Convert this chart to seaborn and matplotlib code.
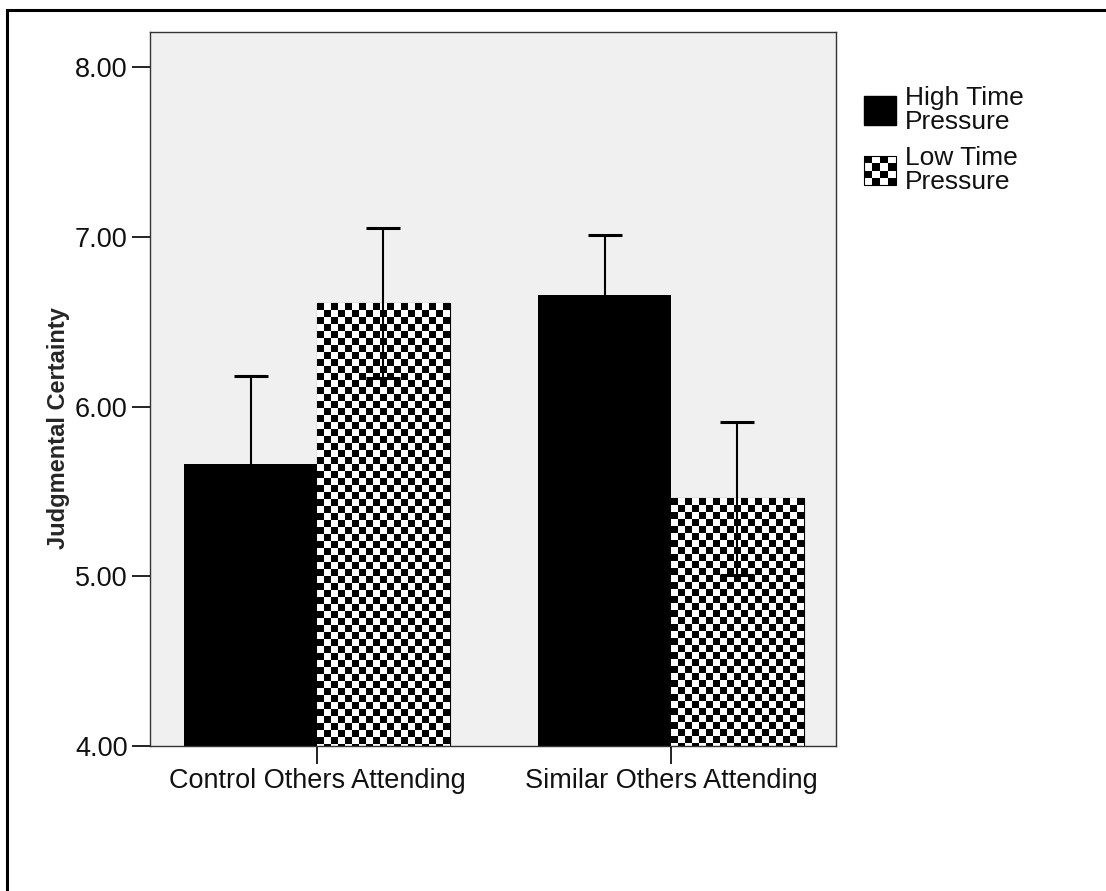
import numpy as np
import pandas as pd
import matplotlib
matplotlib.use("Agg")
import matplotlib.pyplot as plt
import seaborn as sns
from matplotlib.patches import Rectangle, Patch
from matplotlib.legend_handler import HandlerBase

# ---- data ----
conditions = ["Control Others Attending", "Similar Others Attending"]
pressure = ["High Time\nPressure", "Low Time\nPressure"]
high_means = [5.66, 6.66]
low_means = [6.61, 5.46]
high_err = [0.52, 0.35]
low_err = [0.44, 0.45]
yticks = [4.0, 5.0, 6.0, 7.0, 8.0]
ylim = (4.0, 8.207)

df = pd.DataFrame({
    "condition": conditions * 2,
    "pressure": [pressure[0]] * 2 + [pressure[1]] * 2,
    "mean": high_means + low_means,
    "err": high_err + low_err,
})

sns.set_style("white")
plt.rcParams["font.family"] = ["Liberation Sans", "DejaVu Sans"]

W, H = 1106, 891
fig = plt.figure(figsize=(W / 100, H / 100), dpi=100)
ax = fig.add_axes([150 / W, 1 - 746 / H, 686 / W, 714 / H])
ax.set_facecolor("#f0f0f0")

sns.barplot(data=df, x="condition", y="mean", hue="pressure",
            order=conditions, hue_order=pressure,
            palette=["black", "white"], width=0.75, errorbar=None,
            linewidth=0, legend=False, ax=ax, zorder=1)

ax.set_xlim(-0.472, 1.466)
ax.set_ylim(*ylim)

# error bars from the bar geometry
for cont, errs in zip(ax.containers, [high_err, low_err]):
    xs = [b.get_x() + b.get_width() / 2 for b in cont]
    ys = [b.get_height() for b in cont]
    ax.errorbar(xs, ys, yerr=errs, fmt="none", ecolor="black",
                elinewidth=1.5, capsize=12, capthick=2.2, zorder=4)

# checkerboard fill for low-pressure bars
fig.canvas.draw()
cell = 7
for b in ax.containers[1]:
    b.set_edgecolor("black")
    b.set_linewidth(0.8)
    x0, x1 = b.get_x(), b.get_x() + b.get_width()
    y0, y1 = ylim[0], b.get_height()
    p0 = ax.transData.transform((x0, y0))
    p1 = ax.transData.transform((x1, y1))
    wpx = int(round(abs(p1[0] - p0[0])))
    hpx = int(round(abs(p1[1] - p0[1])))
    ii, jj = np.meshgrid(np.arange(hpx), np.arange(wpx), indexing="ij")
    arr = ((ii // cell + jj // cell) % 2).astype(float)
    ax.imshow(arr, extent=(x0, x1, y0, y1), aspect="auto",
              interpolation="nearest", cmap="gray", vmin=0, vmax=1, zorder=2)

ax.set_xlim(-0.472, 1.466)
ax.set_ylim(*ylim)

ax.set_yticks(yticks)
ax.set_yticklabels([f"{v:.2f}" for v in yticks])
ax.tick_params(axis="both", which="major", direction="out", length=13,
               width=1.3, pad=3, labelsize=19.5, colors="#111111",
               left=True, bottom=True)
for s in ax.spines.values():
    s.set_color("#333333")
    s.set_linewidth(1.0)
ax.set_xlabel("")
ax.set_ylabel("Judgmental Certainty", fontsize=17, fontweight="bold")
ax.yaxis.set_label_coords(-0.117, 0.445)


class CheckerHandler(HandlerBase):
    def create_artists(self, legend, orig_handle, xdescent, ydescent,
                       width, height, fontsize, trans):
        n = 4
        arts = [Rectangle((-xdescent, -ydescent), width, height,
                          facecolor="white", edgecolor="black", lw=0.8,
                          transform=trans)]
        cw, ch = width / n, height / n
        for i in range(n):
            for j in range(n):
                if (i + j) % 2 == 1:
                    arts.append(Rectangle((-xdescent + i * cw, -ydescent + j * ch),
                                          cw, ch, facecolor="black",
                                          edgecolor="none", transform=trans))
        return arts


h_high = Patch(facecolor="black", edgecolor="black")
h_low = Patch(facecolor="white", edgecolor="black")
leg = ax.legend([h_high, h_low], pressure, loc="upper left",
                bbox_to_anchor=(864 / W, 1 - 86 / H), bbox_transform=fig.transFigure,
                frameon=False, borderpad=0, borderaxespad=0, fontsize=19,
                handlelength=1.2, handleheight=1.3, handletextpad=0.35,
                labelspacing=0.45, handler_map={h_low: CheckerHandler()})
for t in leg.get_texts():
    t.set_linespacing(1.0)
    t.set_color("#111111")

# figure frame (left and top edges visible)
fig.add_artist(Rectangle((7 / W, -0.5), 2.0, 1.5 - 10 / H, transform=fig.transFigure,
                         fill=False, edgecolor="black", lw=2.2))

fig.savefig("out.png", dpi=100)
